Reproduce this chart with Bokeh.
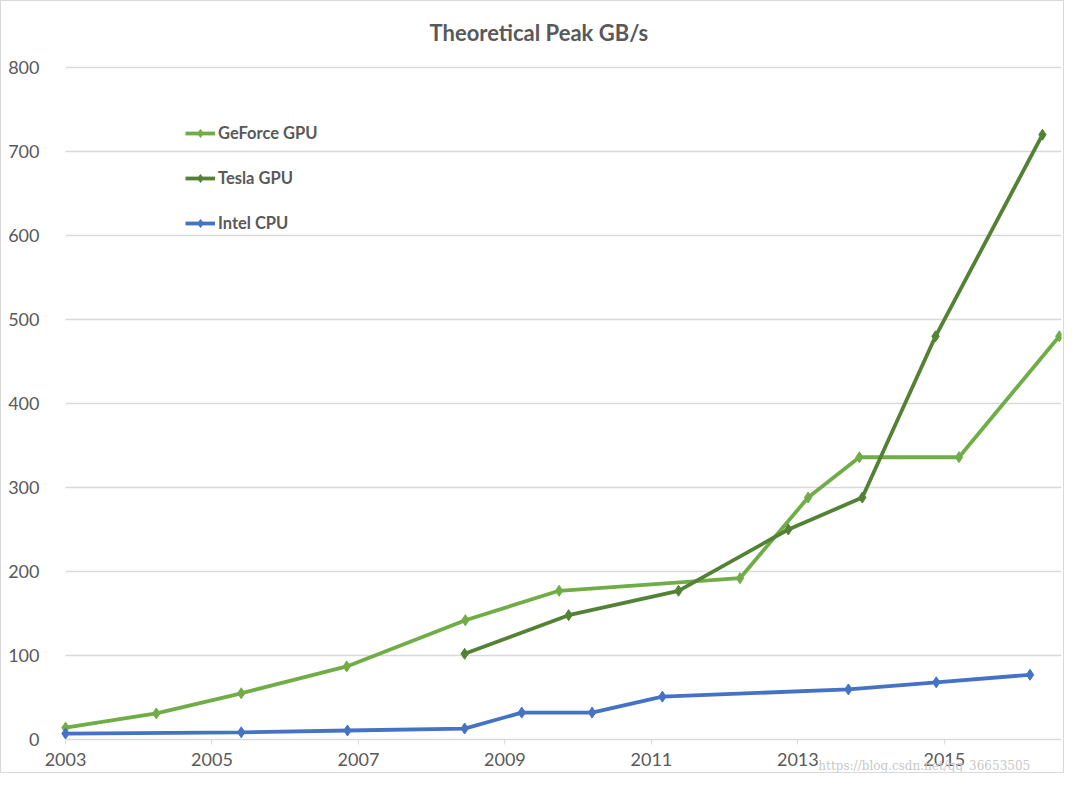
from bokeh.plotting import figure
from bokeh.models import Range1d, Legend, LegendItem, Label, FixedTicker
from bokeh.embed import file_html
from bokeh.resources import INLINE

# ---- data ----
geforce_x = [2003.0, 2004.24, 2005.40, 2006.84, 2008.46, 2009.74, 2012.21, 2013.14, 2013.84, 2015.20, 2016.57]
geforce_y = [14, 31, 55, 87, 142, 177, 192, 288, 336, 336, 480]

tesla_x = [2008.45, 2009.87, 2011.37, 2012.87, 2013.88, 2014.88, 2016.34]
tesla_y = [102, 148, 177, 250, 288, 480, 720]

intel_x = [2003.0, 2005.40, 2006.85, 2008.45, 2009.23, 2010.19, 2011.15, 2013.69, 2014.89, 2016.17]
intel_y = [7, 8.5, 10.7, 13, 32, 32, 51, 59.6, 68, 77]

x_ticks = [2003, 2005, 2007, 2009, 2011, 2013, 2015]
y_ticks = [0, 100, 200, 300, 400, 500, 600, 700, 800]

series_names = ["GeForce GPU", "Tesla GPU", "Intel CPU"]
series_colors = ["#70AD47", "#548235", "#4472C4"]
title_text = "Theoretical  Peak GB/s"

X_MIN, X_MAX = 2003, 2016.6
FONT = "Lato"
TXT = "#595959"
GRID = "#d9d9d9"

# The frame covers the whole figure; both axes are pinned at (2003, 0) so the
# tick labels, title and watermark all sit inside the frame.
p = figure(width=1064, height=773, output_backend="svg", toolbar_location=None,
           x_range=Range1d(2002.126, X_MAX), y_range=Range1d(-41.7, 878.6),
           min_border_left=0, min_border_right=4, min_border_top=0, min_border_bottom=0)

p.outline_line_color = None
p.background_fill_color = "white"
p.border_fill_color = "white"

# title
p.add_layout(Label(x=2009.5, y=841.7, text=title_text, text_font=FONT,
                   text_font_size="22px", text_font_style="bold", text_color=TXT,
                   text_align="center", text_baseline="middle"))

# grid (horizontal lines spanning the data area only)
p.xgrid.visible = False
p.ygrid.visible = False
grid_y = y_ticks[1:]
p.segment(x0=[X_MIN] * len(grid_y), y0=grid_y, x1=[X_MAX] * len(grid_y), y1=grid_y,
          line_color=GRID, line_width=1.3, level="underlay")

# axes
p.xaxis.fixed_location = 0
p.xaxis.bounds = (X_MIN, X_MAX)
p.yaxis.fixed_location = X_MIN
p.xaxis.ticker = FixedTicker(ticks=x_ticks)
p.yaxis.ticker = FixedTicker(ticks=y_ticks)
p.xaxis.axis_line_color = GRID
p.xaxis.axis_line_width = 1.3
p.xaxis.major_tick_line_color = GRID
p.xaxis.major_tick_out = 5
p.xaxis.major_tick_in = 0
p.xaxis.minor_tick_line_color = None
p.xaxis.major_label_standoff = 9
p.yaxis.axis_line_color = None
p.yaxis.major_tick_line_color = None
p.yaxis.minor_tick_line_color = None
p.yaxis.major_label_standoff = 20
for ax in (p.xaxis, p.yaxis):
    ax.major_label_text_font = FONT
    ax.major_label_text_font_size = "18px"
    ax.major_label_text_color = TXT

# series
items = []
for name, xs, ys, col in zip(series_names, [geforce_x, tesla_x, intel_x],
                             [geforce_y, tesla_y, intel_y], series_colors):
    ln = p.line(xs, ys, line_color=col, line_width=3.8)
    mk = p.scatter(xs, ys, marker="diamond", size=11, fill_color=col, line_color=col)
    items.append(LegendItem(label=name, renderers=[ln, mk]))

legend = Legend(items=items, location=(184, 541), orientation="vertical",
                glyph_width=30, glyph_height=20, label_height=20, spacing=25,
                padding=0, margin=0, label_standoff=3,
                label_text_font=FONT, label_text_font_size="16.5px",
                label_text_font_style="bold", label_text_color=TXT,
                background_fill_alpha=0, border_line_color=None)
p.add_layout(legend)

# watermark
wm = Label(x=2013.28, y=-32, text="https://blog.csdn.net/qq_36653505",
           text_font="DejaVu Serif", text_font_size="12px",
           text_color="#c8c8c8", text_baseline="middle", text_align="left")
p.add_layout(wm)

p.styles = {"border": "1px solid #d9d9d9"}

open("out.html", "w").write(file_html(p, INLINE))
